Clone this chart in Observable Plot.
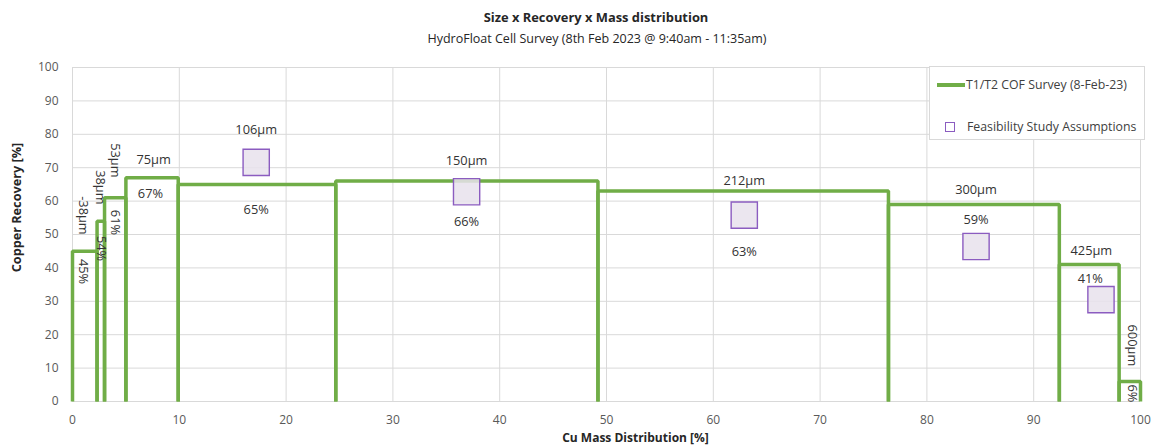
<!DOCTYPE html>
<html>
<head>
<meta charset="utf-8">
<script src="https://cdn.jsdelivr.net/npm/d3@7"></script>
<script src="https://cdn.jsdelivr.net/npm/@observablehq/plot@0.6"></script>
<style>
  body { margin: 0; background: #fff; font-family: "Open Sans", sans-serif; }
  #wrap { position: relative; width: 1161px; height: 448px; overflow: hidden; }
  #head { position: relative; width: 1161px; height: 50px; }
  #title { position: absolute; left: 396px; top: 8px; width: 400px; text-align: center; font-weight: bold; font-size: 12.9px; line-height: 18px; color: #262626; }
  #subtitle { position: absolute; left: 397px; top: 30px; width: 400px; text-align: center; font-size: 12.5px; line-height: 18px; color: #262626; white-space: nowrap; }
  #legend { position: absolute; left: 929px; top: 66px; width: 216px; height: 74px; background: #fff; border: 1px solid #d9d9d9; box-sizing: border-box; font-size: 12.3px; color: #404040; }
  .li { position: absolute; left: 0; height: 18px; line-height: 18px; white-space: nowrap; }
  .sw-line { position: absolute; left: 7px; top: 7px; width: 28px; height: 3.5px; background: #70AD47; }
  .sw-sq { position: absolute; left: 15px; top: 4px; width: 10px; height: 10px; border: 1.5px solid #8b5cc0; box-sizing: border-box; }
  .lt { position: absolute; }
</style>
</head>
<body>
<div id="wrap">
  <div id="head">
    <div id="title">Size x Recovery x Mass distribution</div>
    <div id="subtitle">HydroFloat Cell Survey (8th Feb 2023 @ 9:40am - 11:35am)</div>
  </div>
  <div id="chart"></div>
  <div id="legend">
    <div class="li" style="top:9px"><span class="sw-line"></span><span class="lt" style="left:36px">T1/T2 COF Survey (8-Feb-23)</span></div>
    <div class="li" style="top:51px"><span class="sw-sq"></span><span class="lt" style="left:37px">Feasibility Study Assumptions</span></div>
  </div>
</div>
<script>
// ---- Data ----
const sizeClasses = ["-38µm", "38µm", "53µm", "75µm", "106µm", "150µm", "212µm", "300µm", "425µm", "600µm"];
// cumulative Cu mass distribution boundaries [%]
const massBounds = [0, 2.3, 3.0, 5.0, 9.9, 24.65, 49.2, 76.4, 92.4, 98.0, 100];
// copper recovery per size class [%]
const recovery = [45, 54, 61, 67, 65, 66, 63, 59, 41, 6];

// Feasibility study assumptions
const fsSizes = ["106µm", "150µm", "212µm", "300µm", "425µm"];
const fsMass = [17.2, 36.9, 62.9, 84.6, 96.3];
const fsRecovery = [71.6, 62.8, 55.8, 46.4, 30.5];

// label anchor points (data units)
const sizeLabelX = [1.03, 2.55, 4.0, 7.6, 17.2, 36.9, 62.9, 84.6, 95.4, 99.25];
const sizeLabelY = [55.7, 64.1, 72.2, 72.2, 81.4, 71.9, 66.2, 63.5, 45.2, 16.8];
const pctLabelX = [1.03, 2.7, 4.0, 7.3, 17.2, 36.9, 62.9, 84.6, 95.3, 99.25];
const pctLabelY = [38.9, 45.8, 53.6, 62.3, 57.5, 53.9, 44.9, 54.5, 36.8, 2.4];
const verticalLabel = [true, true, true, false, false, false, false, false, false, true];

const xTicks = d3.range(0, 101, 10);
const yTicks = d3.range(0, 101, 10);

// ---- Derived tables ----
const barPath = sizeClasses.flatMap((s, i) => [
  {size: s, x: massBounds[i], y: 0},
  {size: s, x: massBounds[i], y: recovery[i]},
  {size: s, x: massBounds[i + 1], y: recovery[i]},
  {size: s, x: massBounds[i + 1], y: 0}
]);
const fsPoints = fsSizes.map((s, i) => ({size: s, x: fsMass[i], y: fsRecovery[i]}));
const labels = sizeClasses.flatMap((s, i) => [
  {text: s, x: sizeLabelX[i], y: sizeLabelY[i], v: verticalLabel[i]},
  {text: recovery[i] + "%", x: pctLabelX[i], y: pctLabelY[i], v: verticalLabel[i]}
]);

const textColor = "#333333";
const chart = Plot.plot({
  width: 1161,
  height: 398,
  marginTop: 17,
  marginBottom: 47,
  marginLeft: 72,
  marginRight: 21,
  style: {fontFamily: "'Open Sans', sans-serif", fontSize: "12px", background: "#fff", overflow: "visible"},
  x: {domain: [0, 100]},
  y: {domain: [0, 100]},
  marks: [
    Plot.gridX(xTicks, {stroke: "#d9d9d9", strokeOpacity: 1, strokeWidth: 1}),
    Plot.gridY(yTicks, {stroke: "#d9d9d9", strokeOpacity: 1, strokeWidth: 1}),
    Plot.axisX(xTicks, {tickSize: 0, tickPadding: 14, fill: "#595959", fontSize: 12, label: null}),
    Plot.axisY(yTicks, {tickSize: 0, tickPadding: 14, fill: "#595959", fontSize: 12, label: null}),
    Plot.line(barPath, {x: "x", y: "y", z: "size", stroke: "#70AD47", strokeWidth: 3.5, strokeLinejoin: "miter", strokeLinecap: "butt"}),
    Plot.dot(fsPoints, {x: "x", y: "y", symbol: "square", r: 14.8, stroke: "#8b5cc0", strokeWidth: 1.4, fill: "#e8e2ec", fillOpacity: 0.85}),
    Plot.text(labels.filter(d => !d.v), {x: "x", y: "y", text: "text", fill: textColor, fontSize: 12.8, textAnchor: "middle", lineAnchor: "middle"}),
    Plot.text(labels.filter(d => d.v), {x: "x", y: "y", text: "text", rotate: 90, fill: textColor, fontSize: 12.8, textAnchor: "middle", lineAnchor: "middle"}),
    Plot.text(["Cu Mass Distribution [%]"], {frameAnchor: "bottom", dx: 29, dy: 37, text: d => d, fontWeight: "bold", fontSize: 12, fill: "#262626", lineAnchor: "middle"}),
    Plot.text(["Copper Recovery [%]"], {frameAnchor: "left", dx: -56, dy: -27, rotate: -90, text: d => d, fontWeight: "bold", fontSize: 12.7, fill: "#262626", lineAnchor: "middle", textAnchor: "middle"})
  ]
});
document.getElementById("chart").appendChild(chart);
</script>
</body>
</html>
